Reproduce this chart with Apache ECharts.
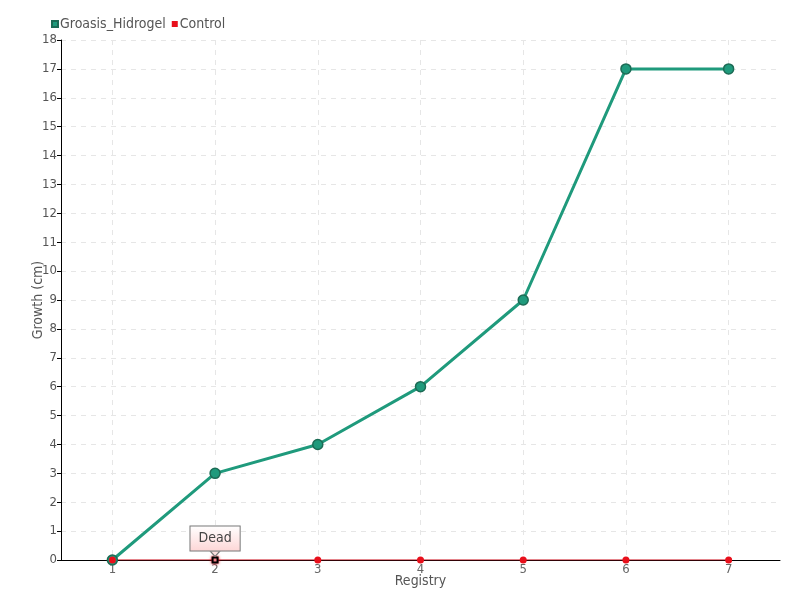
<!DOCTYPE html>
<html><head><meta charset="utf-8">
<script src="https://cdn.jsdelivr.net/npm/echarts@6/dist/echarts.min.js"></script>
<style>html,body{margin:0;padding:0;background:#fff}#c{width:800px;height:600px}</style>
</head><body><div id="c"></div>
<script>
const categories = ['1','2','3','4','5','6','7'];
const groasis = [0,3,4,6,9,17,17];
const control = [0,0,0,0,0,0,0];
const deadIndex = 1;
const deadText = 'Dead';

const FONT = "'Liberation Sans Narrow', 'DejaVu Sans Condensed', sans-serif";
const chart = echarts.init(document.getElementById('c'));
chart.setOption({
  animation: false,
  textStyle: {fontFamily: FONT},
  legend: {
    left: 46, top: 12, itemWidth: 6, itemHeight: 6, itemGap: 6,
    icon: 'rect',
    textStyle: {fontFamily: FONT, fontSize: 14, color: '#555', padding: [0,0,0,-3]},
    data: ['Groasis_Hidrogel','Control']
  },
  grid: {left: 61, right: 20, top: 40, bottom: 40},
  xAxis: {
    type: 'category', data: categories, boundaryGap: true,
    name: 'Registry', nameLocation: 'middle', nameGap: 14, nameMoveOverlap: false,
    nameTextStyle: {fontFamily: FONT, fontSize: 14, color: '#555', verticalAlign: 'top'},
    axisLine: {lineStyle: {color: '#000'}},
    axisTick: {show: false},
    axisLabel: {fontFamily: FONT, fontSize: 13, color: '#666', margin: 3},
    splitLine: {show: true, alignWithLabel: true, lineStyle: {type: [5,5], color: '#e6e6e6'}}
  },
  yAxis: {
    type: 'value', min: 0, max: 18, interval: 1,
    name: 'Growth (cm)', nameLocation: 'middle', nameGap: 16, nameMoveOverlap: false,
    nameTextStyle: {fontFamily: FONT, fontSize: 14, color: '#555'},
    axisLine: {show: true, lineStyle: {color: '#000'}},
    axisTick: {show: true, length: 4, lineStyle: {color: '#000'}},
    axisLabel: {fontFamily: FONT, fontSize: 13, color: '#555', margin: 4},
    splitLine: {show: true, lineStyle: {type: [5,5], color: '#e6e6e6'}}
  },
  series: [
    {
      name: 'Groasis_Hidrogel', type: 'line', data: groasis,
      color: '#1f9a7c',
      lineStyle: {width: 3, color: '#1f9a7c'},
      symbol: 'circle', symbolSize: 10,
      itemStyle: {color: '#1f9a7c', borderColor: '#1c6b55', borderWidth: 1.5}
    },
    {
      name: 'Control', type: 'line',
      data: control.map((v, i) => i === deadIndex ? {
        value: v, symbol: 'rect', symbolSize: 5,
        itemStyle: {color: '#fff', borderColor: '#000', borderWidth: 2, shadowColor: '#e81020', shadowBlur: 3},
        label: {
          show: true, position: 'top', distance: 6, formatter: deadText,
          fontFamily: FONT, fontSize: 14, color: '#444',
          backgroundColor: {type: 'linear', x: 0, y: 0, x2: 0, y2: 1, colorStops: [{offset: 0, color: '#fff'}, {offset: 1, color: '#fdd6d6'}]},
          borderColor: '#777', borderWidth: 1, padding: [5, 8, 5, 8]
        }
      } : v),
      color: '#e8101c',
      lineStyle: {width: 1.2, color: '#cc0a18'},
      symbol: 'circle', symbolSize: 7,
      itemStyle: {color: '#e8101c'},
      z: 3,
      markPoint: {
        symbol: 'triangle', symbolSize: [9, 5], symbolRotate: 180, symbolOffset: [0, -6],
        label: {show: false},
        itemStyle: {color: '#fde0e0', borderColor: '#777', borderWidth: 1},
        data: [{coord: [deadIndex, 0]}]
      }
    }
  ]
});
</script></body></html>
